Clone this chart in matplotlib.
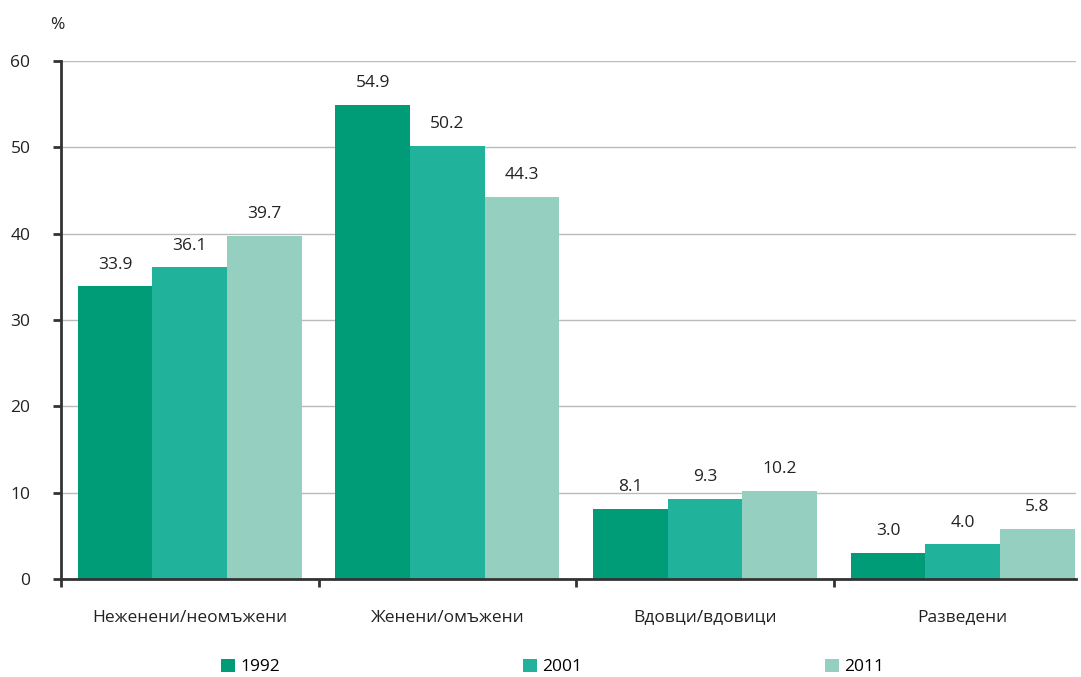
import matplotlib.pyplot as plt
import numpy as np
from matplotlib.patches import Patch

plt.rcParams['font.family'] = ['Open Sans', 'DejaVu Sans']

categories = ['Неженени/неомъжени', 'Женени/омъжени', 'Вдовци/вдовици', 'Разведени']
years = ['1992', '2001', '2011']
v1992 = [33.9, 54.9, 8.1, 3.0]
v2001 = [36.1, 50.2, 9.3, 4.0]
v2011 = [39.7, 44.3, 10.2, 5.8]
colors = ['#009b77', '#20b29b', '#95cfc0']

fig = plt.figure(figsize=(10.81, 6.77), dpi=100)
ax = fig.add_axes([61/1081, 1-579/677, (1076-61)/1081, (579-61)/677])

x = np.arange(len(categories))
w = 0.29
for i, vals in enumerate([v1992, v2001, v2011]):
    bars = ax.bar(x + (i-1)*w, vals, width=w, color=colors[i], zorder=2)
    for xi, v in zip(x + (i-1)*w, vals):
        ax.text(xi, v + 1.6, f'{v:.1f}', ha='center', va='bottom', fontsize=12.5, color='#222222')

ax.set_xlim(-0.5, 3.44)
ax.set_ylim(0, 60)
ax.set_yticks(range(0, 61, 10))
ax.yaxis.grid(True, color='#bbbbbb', linewidth=1, zorder=0)
ax.set_axisbelow(True)

ax.set_xticks(x)
ax.set_xticklabels(categories)
ax.set_xticks(np.arange(-0.5, 3.0, 1.0), minor=True)
ax.tick_params(axis='x', which='major', length=0, pad=22, labelsize=12.5, labelcolor='#222222')
ax.tick_params(axis='x', which='minor', length=6, width=2, direction='out', color='#333333')
ax.tick_params(axis='y', length=6, width=2, direction='out', color='#333333', pad=16,
               labelsize=12.5, labelcolor='#222222')

for s in ['top', 'right']:
    ax.spines[s].set_visible(False)
for s in ['left', 'bottom']:
    ax.spines[s].set_linewidth(2)
    ax.spines[s].set_color('#333333')

fig.text(57/1081, 1-25/677, '%', ha='center', va='center', fontsize=12.5, color='#222222')

handles = [Patch(facecolor=c, label=y) for c, y in zip(colors, years)]
fig.legend(handles=handles, loc='center', bbox_to_anchor=(553/1081, 1-667/677), ncol=3,
           frameon=False, fontsize=12.5, handlelength=0.8, handleheight=0.8,
           handletextpad=0.3, columnspacing=14)

fig.savefig('out.png', dpi=100)
